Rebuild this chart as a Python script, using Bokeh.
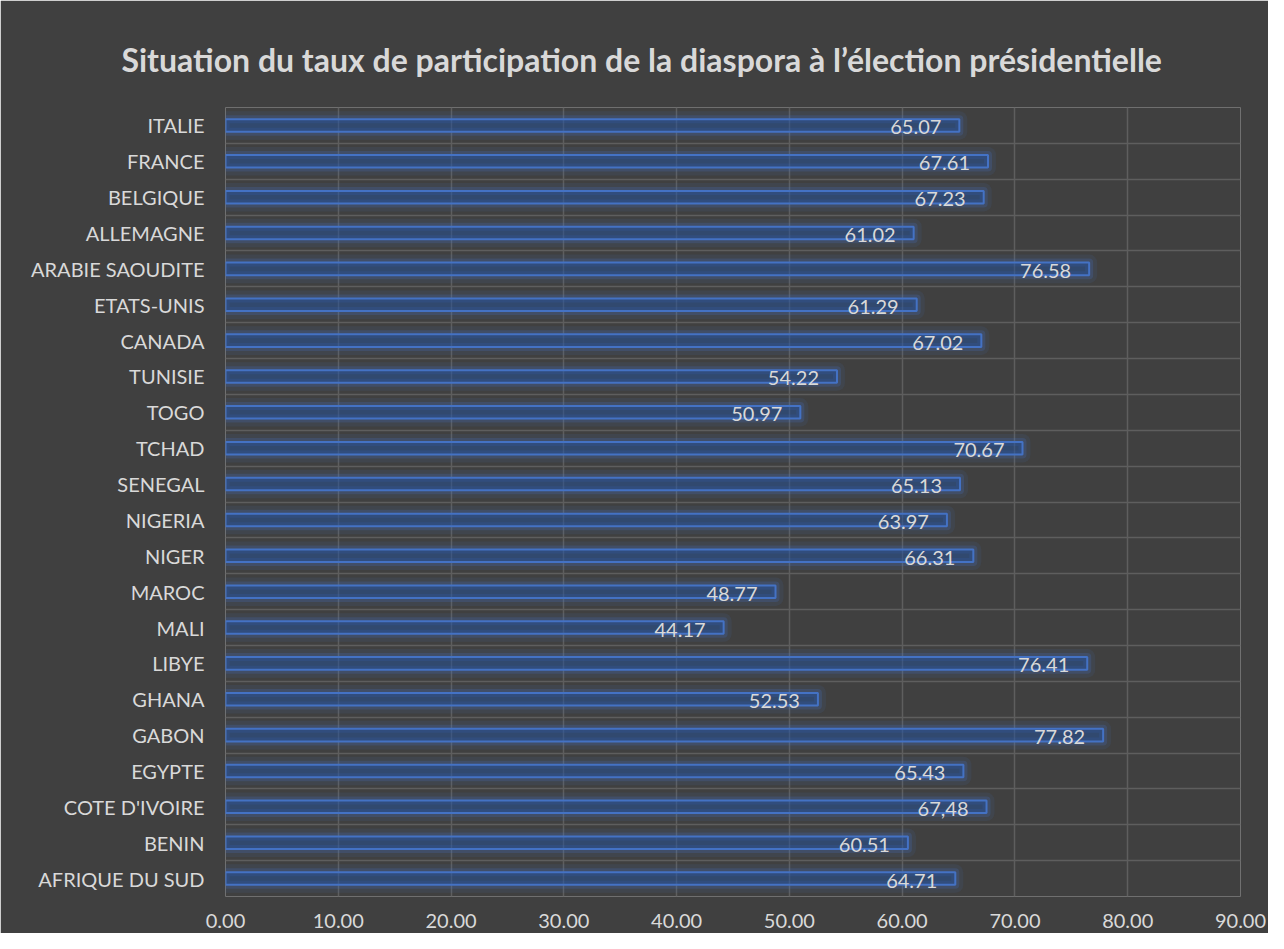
from bokeh.plotting import figure
from bokeh.models import FixedTicker, NumeralTickFormatter, ColumnDataSource, Range1d
from bokeh.core.properties import value
from bokeh.embed import file_html
from bokeh.resources import INLINE

# Data (bottom to top, as drawn)
countries = ["AFRIQUE DU SUD", "BENIN", "COTE D'IVOIRE", "EGYPTE", "GABON", "GHANA",
             "LIBYE", "MALI", "MAROC", "NIGER", "NIGERIA", "SENEGAL", "TCHAD", "TOGO",
             "TUNISIE", "CANADA", "ETATS-UNIS", "ARABIE SAOUDITE", "ALLEMAGNE",
             "BELGIQUE", "FRANCE", "ITALIE"]
rates = [64.71, 60.51, 67.48, 65.43, 77.82, 52.53, 76.41, 44.17, 48.77, 66.31, 63.97,
         65.13, 70.67, 50.97, 54.22, 67.02, 61.29, 76.58, 61.02, 67.23, 67.61, 65.07]
rate_labels = ["64.71", "60.51", "67,48", "65.43", "77.82", "52.53", "76.41", "44.17",
               "48.77", "66.31", "63.97", "65.13", "70.67", "50.97", "54.22", "67.02",
               "61.29", "76.58", "61.02", "67.23", "67.61", "65.07"]
x_ticks = [0, 10, 20, 30, 40, 50, 60, 70, 80, 90]
title_text = "Situation du taux de participation de la diaspora à l\u2019élection présidentielle"

ypos = list(range(len(countries)))
src = ColumnDataSource(dict(y=ypos, rate=rates, lab=rate_labels))

BG = "#404040"
TXT = "#d9d9d9"
GRID = "#5e5e5e"
BLUE = "#4472c4"

p = figure(frame_width=1015, frame_height=789,
           x_range=Range1d(0, 90), y_range=Range1d(-0.5, len(countries) - 0.5),
           output_backend="svg", toolbar_location=None,
           min_border_left=225, min_border_right=28, min_border_top=107, min_border_bottom=37,
           background_fill_color=BG, border_fill_color=BG, outline_line_color=None)

# title
p.title.text = title_text
p.title.align = "left"
p.title.offset = -104
p.title.standoff = 57
p.title.text_color = TXT
p.title.text_font = "Lato"
p.title.text_font_style = "bold"
p.title.text_font_size = "32px"

# grids
p.xgrid.ticker = FixedTicker(ticks=x_ticks)
p.xgrid.grid_line_color = GRID
p.xgrid.grid_line_width = 1.5
p.ygrid.ticker = FixedTicker(ticks=[i - 0.5 for i in range(len(countries) + 1)])
p.ygrid.grid_line_color = GRID
p.ygrid.grid_line_width = 1.5

# glow
p.hbar(y="y", right="rate", left=0, height=0.35, source=src, fill_alpha=0,
       line_color=BLUE, line_alpha=0.10, line_width=16, line_join="round")
p.hbar(y="y", right="rate", left=0, height=0.35, source=src, fill_alpha=0,
       line_color=BLUE, line_alpha=0.22, line_width=8, line_join="round")
# bars
p.hbar(y="y", right="rate", left=0, height=0.35, source=src,
       fill_color="#1f4e9a", fill_alpha=0.45, line_color=BLUE, line_width=2)

p.text(x="rate", y="y", text="lab", source=src, x_offset=-18, y_offset=2,
       text_align="right", text_baseline="middle", text_color=TXT,
       text_font=value("Lato"), text_font_size="20px")

# axes
p.xaxis.ticker = FixedTicker(ticks=x_ticks)
p.xaxis.formatter = NumeralTickFormatter(format="0.00")
p.yaxis.ticker = FixedTicker(ticks=ypos)
p.yaxis.major_label_overrides = {i: c for i, c in zip(ypos, countries)}
for ax in (p.xaxis, p.yaxis):
    ax.axis_line_color = None
    ax.major_tick_line_color = None
    ax.minor_tick_line_color = None
    ax.major_label_text_color = TXT
    ax.major_label_text_font = "Lato"
    ax.major_label_text_font_size = "20px"
p.xaxis.major_label_standoff = 11
p.yaxis.major_label_standoff = 15

open("out.html", "w").write(file_html(p, INLINE))
